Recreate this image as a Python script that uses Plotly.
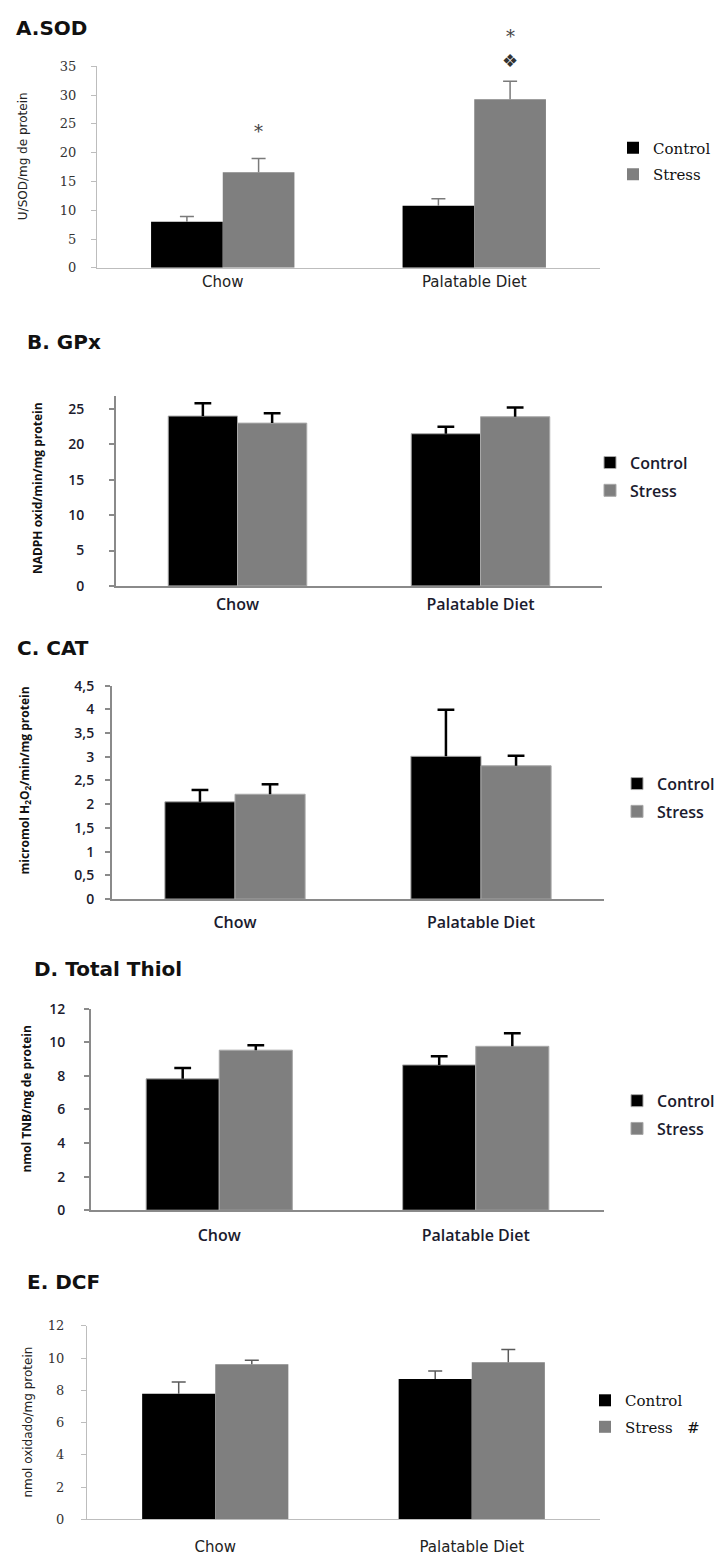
import plotly.graph_objects as go

W, H = 725, 1559

categories = ["Chow", "Palatable Diet"]

# A. SOD (U/SOD/mg de protein)
sod_control = [8.0, 10.8]
sod_control_err = [0.9, 1.2]
sod_stress = [16.6, 29.3]
sod_stress_err = [2.4, 3.1]

# B. GPx (NADPH oxid/min/mg protein)
gpx_control = [24.0, 21.5]
gpx_control_err = [1.8, 1.0]
gpx_stress = [23.0, 23.9]
gpx_stress_err = [1.4, 1.3]

# C. CAT (micromol H2O2/min/mg protein)
cat_control = [2.05, 3.01]
cat_control_err = [0.25, 0.98]
cat_stress = [2.21, 2.81]
cat_stress_err = [0.21, 0.21]
cat_tickvals = [0, 0.5, 1, 1.5, 2, 2.5, 3, 3.5, 4, 4.5]
cat_ticktext = ["0", "0,5", "1", "1,5", "2", "2,5", "3", "3,5", "4", "4,5"]

# D. Total Thiol (nmol TNB/mg de protein)
thiol_control = [7.82, 8.65]
thiol_control_err = [0.65, 0.52]
thiol_stress = [9.53, 9.76]
thiol_stress_err = [0.29, 0.77]

# E. DCF (nmol oxidado/mg protein)
dcf_control = [7.78, 8.70]
dcf_control_err = [0.73, 0.49]
dcf_stress = [9.61, 9.74]
dcf_stress_err = [0.25, 0.79]

BARGAP = 0.43
SERIF = "DejaVu Serif"
SANS = "DejaVu Sans"
OPEN = "Open Sans"
INK = "#1b1b2e"

# Layout of each panel in page pixels plus its drawing style
panels = [
    dict(title="A.SOD", title_xy=(14, 18),
         control=sod_control, control_err=sod_control_err,
         stress=sod_stress, stress_err=sod_stress_err,
         x_px=(97, 600), y_px=(57, 261), yrange=[0, 35], dtick=5,
         ytitle="U/SOD/mg de protein", ytitle_xy=(23, 148),
         legend_px=(613, 123), legend_names=["Control", "Stress"],
         tickfont=dict(family=SERIF, size=13, color="#333333"),
         catfont=dict(family=SANS, size=15, color="#222222"),
         legfont=dict(family=SERIF, size=15, color="#111111"),
         ytfont=dict(family=SANS, size=12, color="#222222"),
         axis_color="#bdbdbd", axis_w=1, err_color="#7a7a7a", err_th=1.5, err_w=5,
         bar_line=0, ylabel_gap=12, cat_gap=0),
    dict(title="B. GPx", title_xy=(25, 336),
         control=gpx_control, control_err=gpx_control_err,
         stress=gpx_stress, stress_err=gpx_stress_err,
         x_px=(116, 602), y_px=(391, 583), yrange=[0, 26.8], dtick=5,
         ytitle="NADPH oxid/min/mg protein", ytitle_xy=(37, 484),
         legend_px=(590, 441), legend_names=["Control", "Stress"],
         tickfont=dict(family=OPEN, size=14, color=INK, weight=600),
         catfont=dict(family=OPEN, size=16, color=INK, weight=600),
         legfont=dict(family=OPEN, size=16, color=INK, weight=600),
         ytfont=dict(family=OPEN, size=12, color="#111111", weight=700),
         axis_color="#8a8a8a", axis_w=2, err_color="#000000", err_th=2.5, err_w=6,
         bar_line=1, ylabel_gap=22, cat_gap=3),
    dict(title="C. CAT", title_xy=(15, 646),
         control=cat_control, control_err=cat_control_err,
         stress=cat_stress, stress_err=cat_stress_err,
         x_px=(112, 604), y_px=(684, 900), yrange=[0, 4.5], dtick=0.5,
         ytitle="micromol H<sub>2</sub>O<sub>2</sub>/min/mg protein", ytitle_xy=(25, 780),
         legend_px=(617, 766), legend_names=["Control", "Stress"],
         tickfont=dict(family=OPEN, size=14, color=INK, weight=600),
         catfont=dict(family=OPEN, size=16, color=INK, weight=600),
         legfont=dict(family=OPEN, size=16, color=INK, weight=600),
         ytfont=dict(family=OPEN, size=12, color="#111111", weight=700),
         axis_color="#8a8a8a", axis_w=2, err_color="#000000", err_th=2.5, err_w=6,
         bar_line=1, ylabel_gap=8, cat_gap=8,
         tickvals=cat_tickvals, ticktext=cat_ticktext),
    dict(title="D. Total Thiol", title_xy=(32, 971),
         control=thiol_control, control_err=thiol_control_err,
         stress=thiol_stress, stress_err=thiol_stress_err,
         x_px=(91, 604), y_px=(1011, 1215), yrange=[0, 12], dtick=2,
         ytitle="nmol TNB/mg de protein", ytitle_xy=(27, 1103),
         legend_px=(617, 1087), legend_names=["Control", "Stress"],
         tickfont=dict(family=OPEN, size=14, color=INK, weight=600),
         catfont=dict(family=OPEN, size=16, color=INK, weight=600),
         legfont=dict(family=OPEN, size=16, color=INK, weight=600),
         ytfont=dict(family=OPEN, size=12, color="#111111", weight=700),
         axis_color="#8a8a8a", axis_w=2, err_color="#000000", err_th=2.5, err_w=6,
         bar_line=1, ylabel_gap=16, cat_gap=10),
    dict(title="E. DCF", title_xy=(25, 1288),
         control=dcf_control, control_err=dcf_control_err,
         stress=dcf_stress, stress_err=dcf_stress_err,
         x_px=(87, 600), y_px=(1332, 1528), yrange=[0, 12], dtick=2,
         ytitle="nmol oxidado/mg protein", ytitle_xy=(28, 1430),
         legend_px=(585, 1391), legend_names=["Control", "Stress\u00a0\u00a0\u00a0#"],
         tickfont=dict(family=SERIF, size=13, color="#333333"),
         catfont=dict(family=SANS, size=15, color="#222222"),
         legfont=dict(family=SERIF, size=15, color="#111111"),
         ytfont=dict(family=SANS, size=12, color="#222222"),
         axis_color="#bdbdbd", axis_w=1, err_color="#5a5a5a", err_th=1.5, err_w=5,
         bar_line=0, ylabel_gap=14, cat_gap=14),
]

fills = ["#000000", "#7f7f7f"]

fig = go.Figure()
layout = dict(
    width=W, height=H,
    margin=dict(l=0, r=0, t=0, b=0),
    paper_bgcolor="white", plot_bgcolor="white",
    barmode="group", bargap=BARGAP, bargroupgap=0,
    scattermode="group", scattergap=BARGAP,
    showlegend=True,
)
annotations = []

for i, p in enumerate(panels, start=1):
    sfx = "" if i == 1 else str(i)
    xa, ya = "x" + sfx, "y" + sfx
    leg = "legend" + sfx
    x0, x1 = p["x_px"]
    yt, yb = p["y_px"]

    groups = [
        (p["legend_names"][0], p["control"], p["control_err"]),
        (p["legend_names"][1], p["stress"], p["stress_err"]),
    ]
    for k, (name, vals, errs) in enumerate(groups):
        fig.add_trace(go.Bar(
            x=categories, y=vals, name=name,
            xaxis=xa, yaxis=ya, legend=leg, legendgroup=f"p{i}s{k}",
            marker=dict(color=fills[k],
                        line=dict(color="#a8a8a8", width=p["bar_line"])),
            hoverinfo="skip",
        ))
    # Upper error bars: a cap marker at mean + SE with a stem down to the bar top
    for k, (name, vals, errs) in enumerate(groups):
        fig.add_trace(go.Scatter(
            x=categories, y=[v + e for v, e in zip(vals, errs)],
            mode="markers", showlegend=False, hoverinfo="skip",
            xaxis=xa, yaxis=ya,
            marker=dict(symbol="line-ew", size=2 * p["err_w"],
                        line=dict(color=p["err_color"], width=p["err_th"])),
            error_y=dict(type="data", symmetric=False, array=[0] * len(errs),
                         arrayminus=errs, width=0,
                         color=p["err_color"], thickness=p["err_th"]),
        ))

    layout["xaxis" + sfx] = dict(
        domain=[x0 / W, x1 / W], anchor=ya, type="category",
        showline=True, linecolor=p["axis_color"], linewidth=p["axis_w"],
        ticks="", showgrid=False, zeroline=False, fixedrange=True,
        tickfont=p["catfont"], ticklabelstandoff=p["cat_gap"],
    )
    yax = dict(
        domain=[1 - yb / H, 1 - yt / H], anchor=xa, range=p["yrange"],
        showline=True, linecolor=p["axis_color"], linewidth=p["axis_w"],
        ticks="outside", ticklen=5, tickwidth=p["axis_w"],
        tickcolor=p["axis_color"], showgrid=False, zeroline=False,
        fixedrange=True, tickfont=p["tickfont"],
        ticklabelstandoff=p["ylabel_gap"],
    )
    if "tickvals" in p:
        yax.update(tickmode="array", tickvals=p["tickvals"], ticktext=p["ticktext"])
    else:
        yax.update(tickmode="linear", tick0=0, dtick=p["dtick"])
    layout["yaxis" + sfx] = yax

    lx, ly = p["legend_px"]
    layout[leg] = dict(
        x=lx / W, y=1 - ly / H, xanchor="left", yanchor="top",
        xref="paper", yref="paper", font=p["legfont"],
        bgcolor="rgba(0,0,0,0)", traceorder="grouped", tracegroupgap=4,
        itemclick=False, itemdoubleclick=False,
    )

    tx, ty = p["title_xy"]
    annotations.append(dict(
        text=f"<b>{p['title']}</b>", x=tx / W, y=1 - ty / H,
        xref="paper", yref="paper", xanchor="left", yanchor="middle",
        showarrow=False, font=dict(family=SANS, size=20, color="#111111"),
    ))
    yx, yy = p["ytitle_xy"]
    annotations.append(dict(
        text=p["ytitle"], x=yx / W, y=1 - yy / H, textangle=-90,
        xref="paper", yref="paper", xanchor="center", yanchor="middle",
        showarrow=False, font=p["ytfont"],
    ))

# Significance marks above the SOD stress bars
pA = panels[0]
cat_px = (pA["x_px"][1] - pA["x_px"][0]) / len(categories)
stress_shift = cat_px * (1 - BARGAP) / 4
marks = [
    (0, "*", 27, dict(family=SERIF, size=18, color="#444444")),
    (1, "\u2756", 21, dict(family=SANS, size=18, color="#333333")),
    (1, "*", 45, dict(family=SERIF, size=18, color="#444444")),
]
for idx, sym, lift, font in marks:
    annotations.append(dict(
        text=sym, x=categories[idx], y=sod_stress[idx] + sod_stress_err[idx],
        xref="x", yref="y", xanchor="center", yanchor="middle",
        xshift=stress_shift, yshift=lift, showarrow=False, font=font,
    ))

layout["annotations"] = annotations
fig.update_layout(**layout)
fig.write_html("out.html")
